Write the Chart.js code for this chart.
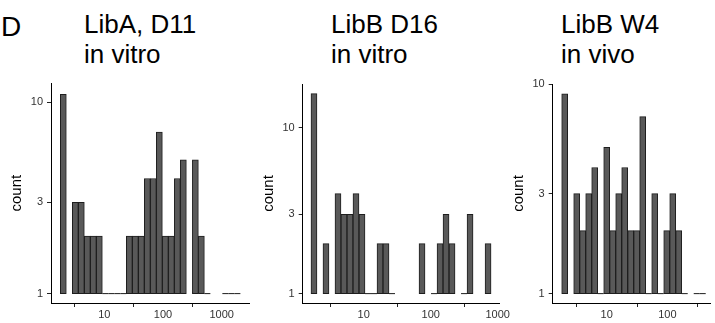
<!DOCTYPE html>
<html>
<head>
<meta charset="UTF-8">
<title>Count histograms</title>
<script src="https://cdn.jsdelivr.net/npm/chart.js@4.4.0/dist/chart.umd.min.js"></script>
<style>
    body { margin: 0; background: #fff; width: 715px; height: 323px; overflow: hidden; position: relative;
           font-family: "Liberation Sans", Arial, Helvetica, sans-serif; }
    canvas { position: absolute; left: 0; top: 0; }
    .ttl { position: absolute; font-size: 26px; line-height: 30px; color: #000; white-space: nowrap; }
</style>
</head>
<body>

<div class="ttl" style="left:1px;top:12px;font-size:28px;">D</div>
<div class="ttl" id="title1" style="left:84px;top:9px;"></div>
<div class="ttl" id="title2" style="left:331px;top:9px;"></div>
<div class="ttl" id="title3" style="left:561px;top:9px;"></div>

<canvas id="chart1" width="715" height="323"></canvas>
<canvas id="chart2" width="715" height="323"></canvas>
<canvas id="chart3" width="715" height="323"></canvas>

<script>
    // panel titles
    var titles = [["LibA, D11", "in vitro"], ["LibB D16", "in vitro"], ["LibB W4", "in vivo"]];

    // histogram counts per bin (left to right)
    var counts1 = [11, 0, 3, 3, 2, 2, 2, 1, 1, 1, 1, 2, 2, 2, 4, 4, 7, 2, 2, 4, 5, 0, 5, 2, 1, 0, 0, 1, 1, 1];
    var counts2 = [16, 0, 2, 0, 4, 3, 3, 4, 3, 1, 1, 2, 2, 1, 0, 0, 0, 0, 2, 0, 1, 2, 3, 2, 0, 1, 3, 0, 0, 2];
    var counts3 = [9, 0, 3, 2, 3, 4, 1, 5, 2, 3, 4, 2, 2, 7, 1, 3, 1, 2, 3, 2, 1, 0, 1, 1];

    // bins are even in log10(x): lower edge of first bin and bin width
    var binStart = [0.25, 0.213, 0.258];
    var binWidth = [0.1023, 0.0896, 0.0989];

    var xTicks1 = [10, 100, 1000];
    var xTicks2 = [10, 100, 1000];
    var xTicks3 = [10, 100];
    var yTicks = [1, 3, 10];

    var barFill = '#595959';
    var barLine = '#1e1e1e';

    for (var t = 0; t < titles.length; t++) {
        document.getElementById('title' + (t + 1)).innerHTML = titles[t].join('<br>');
    }

    function histData(counts, start, width) {
        var bars = [], flat = [];
        for (var i = 0; i < counts.length; i++) {
            var lo = Math.pow(10, start + i * width);
            var hi = Math.pow(10, start + (i + 1) * width);
            var mid = Math.pow(10, start + (i + 0.5) * width);
            if (counts[i] >= 2) {
                bars.push({x: mid, y: [1, counts[i]]});
            } else if (counts[i] == 1) {
                // a count of 1 has no height on a log axis, only its bottom edge shows
                flat.push({x: lo, y: 1});
                flat.push({x: hi, y: 1});
                if (counts[i + 1] != 1) flat.push({x: hi, y: null});
            }
        }
        return {bars: bars, flat: flat};
    }

    function makeChart(id, counts, k, xTicks, axisLeft, axisRight, axisTop, xMin, xMax, yMin, yMax) {
        var h = histData(counts, binStart[k], binWidth[k]);
        return new Chart(document.getElementById(id), {
            data: {
                datasets: [{
                    type: 'bar',
                    data: h.bars,
                    backgroundColor: barFill,
                    borderColor: barLine,
                    borderWidth: 1,
                    borderSkipped: false,
                    barPercentage: 1,
                    categoryPercentage: 1
                }, {
                    type: 'line',
                    data: h.flat,
                    borderColor: barLine,
                    borderWidth: 1,
                    pointRadius: 0,
                    spanGaps: false
                }]
            },
            options: {
                responsive: false,
                animation: false,
                events: [],
                layout: {padding: {left: axisLeft - 50, right: 715 - axisRight, top: axisTop, bottom: 0}},
                plugins: {legend: {display: false}, tooltip: {enabled: false}},
                scales: {
                    x: {
                        type: 'logarithmic',
                        min: xMin,
                        max: xMax,
                        bounds: 'data',
                        afterFit: function (s) { s.height = 20; },
                        afterBuildTicks: function (s) { s.ticks = xTicks.map(function (v) { return {value: v}; }); },
                        ticks: {autoSkip: false, maxRotation: 0, padding: 1, color: '#333',
                                font: {size: 11}, callback: function (v) { return String(v); }},
                        grid: {drawOnChartArea: false, color: '#222', tickLength: 4},
                        border: {color: '#000', width: 1}
                    },
                    y: {
                        type: 'logarithmic',
                        min: yMin,
                        max: yMax,
                        bounds: 'data',
                        afterFit: function (s) { s.width = 50; },
                        afterBuildTicks: function (s) { s.ticks = yTicks.map(function (v) { return {value: v}; }); },
                        ticks: {autoSkip: false, padding: 4, color: '#333',
                                font: {size: 11}, callback: function (v) { return String(v); }},
                        grid: {drawOnChartArea: false, color: '#222', tickLength: 4},
                        border: {color: '#000', width: 1},
                        title: {display: true, text: 'count', color: '#000', font: {size: 15},
                                padding: {top: 7, bottom: 0}}
                    }
                }
            }
        });
    }

    Chart.defaults.font.family = '"Liberation Sans", Arial, Helvetica, sans-serif';

    makeChart('chart1', counts1, 0, xTicks1, 51, 249.3, 83.3, 1.234, 2958, 0.893, 12.58);
    makeChart('chart2', counts2, 1, xTicks2, 302.7, 499.3, 84, 1.229, 1057, 0.878, 18.3);
    makeChart('chart3', counts3, 2, xTicks3, 552.7, 710, 84, 1.288, 503.5, 0.902, 10.02);
</script>
</body>
</html>
